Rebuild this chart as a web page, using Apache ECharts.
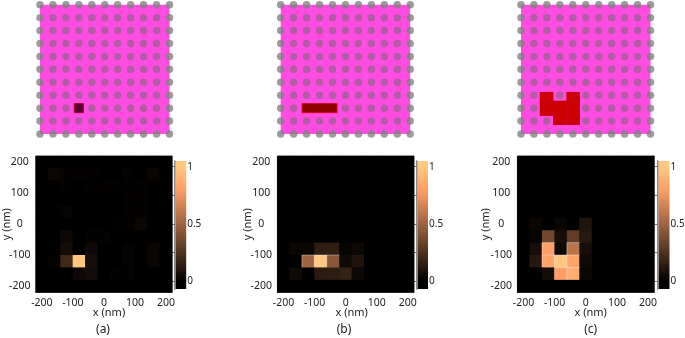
<!DOCTYPE html>
<html><head><meta charset="utf-8">
<style>html,body{margin:0;padding:0;background:#fff}#c{width:685px;height:338px}</style>
<script src="https://cdn.jsdelivr.net/npm/echarts@6/dist/echarts.min.js"></script>
</head><body><div id="c"></div>
<script>
// Heatmap cell centres (nm) and axis ticks
const cellPositions = [-200,-160,-120,-80,-40,0,40,80,120,160,200];
const axisTicks = [-200,-100,0,100,200];
const barTicks = [0,0.5,1];
const barMinorTicks = [0,0.25,0.5,0.75,1];
const captions = ['(a)','(b)','(c)'];

// Measured intensity, rows from y=200 (top) down to y=-200, columns x=-200..200
const valuesA = [
 [0,0,0,0,0,0,0,0,0,0,0],
 [0,.03,.015,.012,.012,0,0,.015,0,.025,0],
 [0,0,.015,0,.008,.008,.008,.012,.008,0,0],
 [0,0,0,0,0,0,0,.008,.008,0,0],
 [0,0,.02,0,0,0,0,.008,.008,0,0],
 [0,0,0,0,0,0,.008,.008,.03,0,0],
 [0,0,.04,0,.015,.015,0,0,0,0,0],
 [0,0,.06,0,.05,0,0,.012,0,.025,0],
 [0,.01,.2,1,.07,0,0,.015,0,.025,0],
 [0,0,0,.04,.06,0,.012,.012,0,0,0],
 [0,0,0,0,0,0,0,0,0,0,0]];
const valuesB = [
 [0,0,0,0,0,0,0,0,0,0,0],[0,0,0,0,0,0,0,0,0,0,0],[0,0,0,0,0,0,0,0,0,0,0],
 [0,0,0,0,0,0,0,0,0,0,0],[0,0,0,0,0,0,0,0,0,0,0],[0,0,0,0,0,0,0,0,0,0,0],
 [0,0,0,0,0,0,0,0,0,0,0],
 [0,.03,.03,.15,.15,.02,.04,0,0,0,0],
 [0,0,.5,1,.43,.05,.1,0,0,0,0],
 [0,.05,0,.13,.14,.17,.04,0,0,0,0],
 [0,0,0,0,0,0,0,0,0,0,0]];
const valuesC = [
 [0,0,0,0,0,0,0,0,0,0,0],[0,0,0,0,0,0,0,0,0,0,0],[0,0,0,0,0,0,0,0,0,0,0],
 [0,0,0,0,0,0,0,0,0,0,0],[0,0,0,0,0,0,0,0,0,0,0],
 [0,.03,0,.03,0,.1,0,0,0,0,0],
 [0,.02,.35,.07,.3,.12,0,0,0,0,0],
 [0,.07,.8,.05,.58,.07,0,0,0,0,0],
 [0,.12,.82,1,.83,.05,0,0,0,0,0],
 [0,0,.06,.8,.88,.03,0,0,0,0,0],
 [0,0,0,0,0,0,0,0,0,0,0]];
// Cells outlined in the heatmaps, as [column, row from top]
const outlinedA = [];
const outlinedB = [[2,8],[3,8],[4,8]];
const outlinedC = [[2,7],[2,8],[3,8],[3,9],[4,7],[4,8],[4,9]];
// Excited regions of the top views [x0,x1,y0,y1] in nm
const regionsA = [[-94,-66,-134,-106]];
const regionsB = [[-134,-26,-134,-106]];
const regionsC = [[-142,-100,-144,-70],[-101,-59,-172,-97],[-60,-18,-172,-70]];

const copper = ['#000000','#402819','#805033','#bf774d','#ff9f66','#ffc77f'];
const MAG = '#ff4de2', FONT = 'Noto Sans', TXT = '#222';

const layouts = [
 {top:40,   heat:[35.7,136.5], bar:[174.7,11.5], xName:109,   cap:103, lab:16, yName:23, vals:valuesA, out:outlinedA, reg:regionsA, fill:'#5c0030', edge:'#a00030'},
 {top:280.7,heat:[277.3,136.7],bar:[416.5,11.5], xName:351.7, cap:344, lab:16, yName:24, vals:valuesB, out:outlinedB, reg:regionsB, fill:'#8c0000', edge:'#d01020'},
 {top:521,  heat:[517.3,137],  bar:[657.5,12],   xName:590.7, cap:590.7,lab:16,yName:26, vals:valuesC, out:outlinedC, reg:regionsC, fill:'#cc0000', edge:'#cc0000'}
];
const opt = {animation:false,backgroundColor:'#fff',grid:[],xAxis:[],yAxis:[],series:[],graphic:[],
 visualMap:{show:false,min:0,max:1,seriesIndex:[],inRange:{color:copper}}};
const labelBase = {color:TXT,fontFamily:FONT,fontSize:10.5};
const edgeDots=[],innerDots=[];
cellPositions.forEach((x,i)=>cellPositions.forEach((y,j)=>{
  (i===0||j===0||i===10||j===10?edgeDots:innerDots).push([x,y]);
}));
layouts.forEach((L,k)=>{
  // top view
  let g=opt.grid.length;
  opt.grid.push({left:L.top,top:4.7,width:129.5,height:129.3,show:true,backgroundColor:MAG,borderWidth:0,outerBoundsMode:'none'});
  let xi=opt.xAxis.length, yi=opt.yAxis.length;
  opt.xAxis.push({type:'value',gridIndex:g,min:-200,max:200,show:false});
  opt.yAxis.push({type:'value',gridIndex:g,min:-200,max:200,show:false});
  opt.series.push({type:'scatter',xAxisIndex:xi,yAxisIndex:yi,data:innerDots,symbolSize:7.5,clip:false,silent:true,itemStyle:{color:'rgba(105,105,105,0.62)'}});
  opt.series.push({type:'scatter',xAxisIndex:xi,yAxisIndex:yi,data:edgeDots,symbolSize:7.5,clip:false,silent:true,itemStyle:{color:'rgba(128,128,128,0.97)'}});
  opt.series.push({type:'custom',xAxisIndex:xi,yAxisIndex:yi,clip:false,silent:true,z:5,data:L.reg,
    renderItem:(p,api)=>{
      const a=api.coord([api.value(0),api.value(3)]), b=api.coord([api.value(1),api.value(2)]);
      return {type:'rect',shape:{x:a[0],y:a[1],width:b[0]-a[0],height:b[1]-a[1]},style:{fill:L.fill,stroke:k<2?L.edge:null,lineWidth:k<2?1:0}};
    }});
  // heatmap
  g=opt.grid.length;
  opt.grid.push({left:L.heat[0],top:156,width:L.heat[1],height:136.5,show:true,backgroundColor:'#000',borderColor:'#999',borderWidth:1,outerBoundsMode:'none'});
  xi=opt.xAxis.length; yi=opt.yAxis.length;
  opt.xAxis.push({type:'category',gridIndex:g,data:cellPositions.map(String),show:false});
  opt.yAxis.push({type:'category',gridIndex:g,data:cellPositions.map(String),show:false});
  opt.xAxis.push({type:'value',gridIndex:g,position:'bottom',min:-220,max:220,splitLine:{show:false},axisLine:{show:false},axisTick:{show:false},
    axisLabel:{...labelBase,margin:5,customValues:axisTicks}});
  opt.yAxis.push({type:'value',gridIndex:g,position:'left',min:-220,max:220,splitLine:{show:false},axisLine:{show:false},axisTick:{show:false},
    axisLabel:{...labelBase,margin:L.lab,align:'center',customValues:axisTicks},
    name:'y (nm)',nameLocation:'middle',nameGap:L.yName,nameRotate:90,nameMoveOverlap:false,nameTextStyle:{...labelBase,fontSize:11}});
  const cells=[];
  L.vals.forEach((row,r)=>row.forEach((v,c)=>{
    const isOut=L.out.some(o=>o[0]===c&&o[1]===r);
    cells.push(isOut?{value:[c,10-r,v],itemStyle:{borderColor:'rgba(255,255,255,0.35)',borderWidth:1}}:[c,10-r,v]);
  }));
  opt.visualMap.seriesIndex.push(opt.series.length);
  opt.series.push({type:'heatmap',xAxisIndex:xi,yAxisIndex:yi,data:cells,silent:true,progressive:0});
  // colour bar
  g=opt.grid.length;
  const lo=-0.07,hi=1.05;
  const stops=[0,.2,.4,.6,.8,1].map((v,i)=>({offset:(hi-v)/(hi-lo),color:copper[i]})).reverse();
  stops.unshift({offset:0,color:copper[5]});
  stops.push({offset:1,color:copper[0]});
  opt.grid.push({left:L.bar[0],top:161,width:L.bar[1],height:128,show:true,borderWidth:0,outerBoundsMode:'none',
    backgroundColor:new echarts.graphic.LinearGradient(0,0,0,1,stops)});
  opt.xAxis.push({type:'value',gridIndex:g,min:0,max:1,show:false});
  opt.yAxis.push({type:'value',gridIndex:g,position:'right',min:lo,max:hi,splitLine:{show:false},
    axisLine:{show:true,lineStyle:{color:'#3a2a20',width:1}},
    axisTick:{show:true,inside:true,length:3,customValues:barMinorTicks,lineStyle:{color:'rgba(120,70,40,0.8)'}},
    axisLabel:{...labelBase,fontSize:10,margin:1,align:'left',customValues:barTicks}});
  opt.yAxis.push({type:'value',gridIndex:g,position:'left',min:lo,max:hi,splitLine:{show:false},axisTick:{show:false},axisLabel:{show:false},
    axisLine:{show:true,lineStyle:{color:'#aaa',width:1.5}}});
  // texts
  opt.graphic.push({type:'text',x:L.xName,y:313,style:{text:'x (nm)',align:'center',verticalAlign:'middle',fill:TXT,font:'11px "'+FONT+'"'}});
  opt.graphic.push({type:'text',x:L.cap,y:330,style:{text:captions[k],align:'center',verticalAlign:'middle',fill:TXT,font:'12px "'+FONT+'"'}});
});
echarts.init(document.getElementById('c'),null,{renderer:'canvas'}).setOption(opt);
</script></body></html>
